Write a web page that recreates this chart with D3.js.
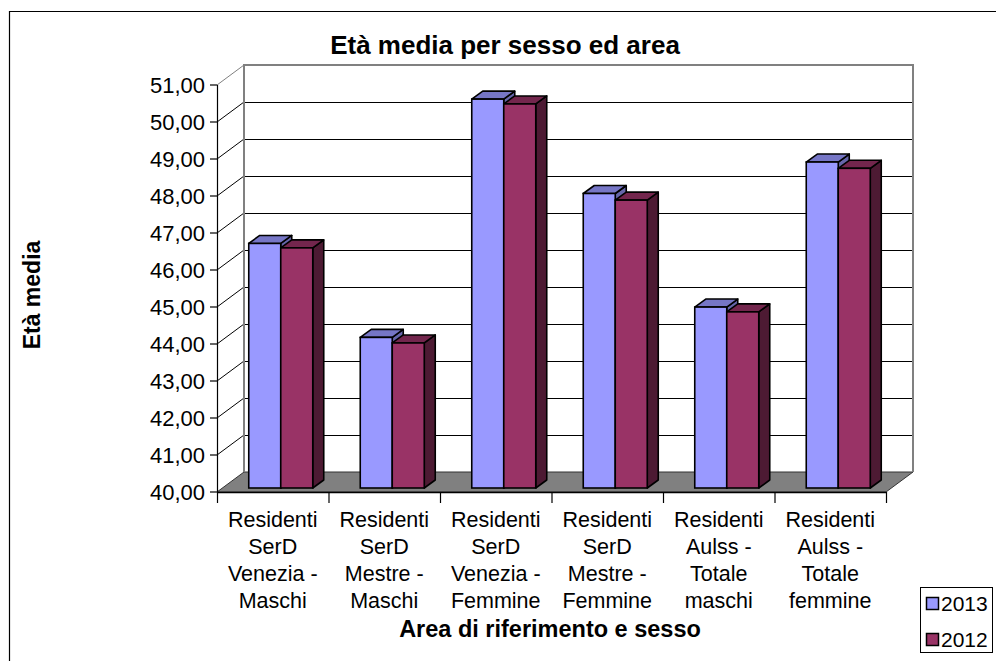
<!DOCTYPE html>
<html>
<head>
<meta charset="utf-8">
<script src="https://cdn.jsdelivr.net/npm/d3@7"></script>
<style>
  html, body { margin: 0; padding: 0; background: #fff; }
  svg { display: block; font-family: "Liberation Sans", Arial, sans-serif; }
</style>
</head>
<body>
<svg id="chart" width="996" height="661"></svg>
<script>
// Average age by sex and area, two survey years
const categories = [
  ["Residenti", "SerD", "Venezia -", "Maschi"],
  ["Residenti", "SerD", "Mestre -", "Maschi"],
  ["Residenti", "SerD", "Venezia -", "Femmine"],
  ["Residenti", "SerD", "Mestre -", "Femmine"],
  ["Residenti", "Aulss -", "Totale", "maschi"],
  ["Residenti", "Aulss -", "Totale", "femmine"]
];
const seriesNames = ["2013", "2012"];
const values2013 = [46.61, 44.07, 50.51, 47.96, 44.89, 48.81];
const values2012 = [46.49, 43.92, 50.38, 47.78, 44.76, 48.64];
const yTicks = [40, 41, 42, 43, 44, 45, 46, 47, 48, 49, 50, 51];

const seriesValues = [values2013, values2012];
const palette = {
  "2013": { front: "#9999FF", top: "#7676C6", side: "#6666AA" },
  "2012": { front: "#993366", top: "#73264D", side: "#4D1A33" }
};

const svg = d3.select("#chart");
const fmt = v => v.toFixed(2).replace(".", ",");

// Front plane of the 3D plot and the oblique depth vector to the back wall
const x0 = 217, x1 = 886;
const depth = { dx: 27, dy: -20 };
const y = d3.scaleLinear().domain([40, 51]).range([492, 85]);
const catIdx = d3.range(categories.length);
const x = d3.scaleBand().domain(catIdx).range([x0, x1]).padding(0);
const groupW = 64;
const xs = d3.scaleBand().domain(seriesNames).range([0, groupW]);
// Bars sit a little behind the front plane
const barShift = { dx: 8, dy: -4 };
const barDepth = { dx: 11, dy: -8 };

// Outer frame
svg.append("path")
  .attr("d", "M9.5,661 V11.5 H996")
  .attr("fill", "none").attr("stroke", "#000").attr("stroke-width", 1.2);

// Floor
const yBase = y(40);
svg.append("polygon")
  .attr("points", [
    [x0, yBase], [x1, yBase], [x1 + depth.dx, yBase + depth.dy], [x0 + depth.dx, yBase + depth.dy]
  ].map(p => p.join(",")).join(" "))
  .attr("fill", "#808080").attr("stroke", "#333").attr("stroke-width", 1);

// Back wall gridlines
const grid = svg.append("g");
yTicks.slice(1, -1).forEach(t => {
  const yy = Math.round(y(t) + depth.dy) + 0.5;
  grid.append("line")
    .attr("x1", x0 + depth.dx).attr("x2", x1 + depth.dx)
    .attr("y1", yy).attr("y2", yy)
    .attr("stroke", "#000").attr("stroke-width", 1);
});
// Side wall gridlines (diagonals)
yTicks.slice(1).forEach((t, i, arr) => {
  grid.append("line")
    .attr("x1", x0).attr("y1", y(t))
    .attr("x2", x0 + depth.dx).attr("y2", y(t) + depth.dy)
    .attr("stroke", i === arr.length - 1 ? "#808080" : "#000").attr("stroke-width", 1);
});
// Back wall border
svg.append("path")
  .attr("d", `M${x0 + depth.dx},${yBase + depth.dy} V${y(51) + depth.dy} H${x1 + depth.dx} V${yBase + depth.dy}`)
  .attr("fill", "none").attr("stroke", "#808080").attr("stroke-width", 2);

// Y axis
const yAxis = svg.append("g");
yAxis.append("line")
  .attr("x1", x0 + 0.5).attr("x2", x0 + 0.5)
  .attr("y1", y(51)).attr("y2", yBase)
  .attr("stroke", "#000").attr("stroke-width", 1.2);
yTicks.forEach(t => {
  yAxis.append("line")
    .attr("x1", x0 - 7).attr("x2", x0)
    .attr("y1", y(t)).attr("y2", y(t))
    .attr("stroke", "#000").attr("stroke-width", 1.2);
  yAxis.append("text")
    .attr("x", 205).attr("y", y(t)).attr("dy", "0.36em")
    .attr("text-anchor", "end")
    .attr("font-size", 22).attr("fill", "#000")
    .text(fmt(t));
});

// X axis line and ticks
const xAxis = svg.append("g");
xAxis.append("line")
  .attr("x1", x0).attr("x2", x1)
  .attr("y1", yBase + 0.5).attr("y2", yBase + 0.5)
  .attr("stroke", "#000").attr("stroke-width", 1.5);
catIdx.concat([categories.length]).forEach(i => {
  const xx = (i < categories.length ? x(i) : x1) + 0.5;
  xAxis.append("line")
    .attr("x1", xx).attr("x2", xx)
    .attr("y1", yBase).attr("y2", yBase + 11)
    .attr("stroke", "#000").attr("stroke-width", 1.2);
});
categories.forEach((lines, i) => {
  const t = xAxis.append("text")
    .attr("text-anchor", "middle")
    .attr("font-size", 21.5).attr("fill", "#000");
  lines.forEach((ln, j) => {
    t.append("tspan")
      .attr("x", x(i) + x.bandwidth() / 2)
      .attr("y", 527 + j * 27)
      .text(ln);
  });
});

// Bars: side, top, then front face of each column
const bars = svg.append("g");
catIdx.forEach(i => {
  seriesNames.forEach((s, k) => {
    const v = seriesValues[k][i];
    const c = palette[s];
    const left = x(i) + (x.bandwidth() - groupW) / 2 + xs(s) + barShift.dx;
    const right = left + xs.bandwidth();
    const bottom = y(40) + barShift.dy;
    const top = y(v) + barShift.dy;
    const pts = a => a.map(p => p.join(",")).join(" ");
    bars.append("polygon")
      .attr("points", pts([[right, bottom], [right, top], [right + barDepth.dx, top + barDepth.dy], [right + barDepth.dx, bottom + barDepth.dy]]))
      .attr("fill", c.side).attr("stroke", "#000").attr("stroke-width", 1.6).attr("stroke-linejoin", "round");
    bars.append("polygon")
      .attr("points", pts([[left, top], [right, top], [right + barDepth.dx, top + barDepth.dy], [left + barDepth.dx, top + barDepth.dy]]))
      .attr("fill", c.top).attr("stroke", "#000").attr("stroke-width", 1.6).attr("stroke-linejoin", "round");
    bars.append("rect")
      .attr("x", left).attr("y", top)
      .attr("width", xs.bandwidth()).attr("height", bottom - top)
      .attr("fill", c.front).attr("stroke", "#000").attr("stroke-width", 1.6);
  });
});

// Titles
svg.append("text")
  .attr("x", 505).attr("y", 54)
  .attr("text-anchor", "middle").attr("font-weight", "bold").attr("font-size", 26)
  .text("Età media per sesso ed area");
svg.append("text")
  .attr("x", 550).attr("y", 637)
  .attr("text-anchor", "middle").attr("font-weight", "bold").attr("font-size", 23.5)
  .text("Area di riferimento e sesso");
svg.append("text")
  .attr("transform", "translate(40,295) rotate(-90)")
  .attr("text-anchor", "middle").attr("font-weight", "bold").attr("font-size", 23)
  .text("Età media");

// Legend
const legend = svg.append("g");
legend.append("rect")
  .attr("x", 920.5).attr("y", 587.5).attr("width", 72).attr("height", 65)
  .attr("fill", "#fff").attr("stroke", "#000").attr("stroke-width", 1);
seriesNames.forEach((s, k) => {
  legend.append("rect")
    .attr("x", 926.5).attr("y", 597.5 + k * 36).attr("width", 12).attr("height", 12)
    .attr("fill", palette[s].front).attr("stroke", "#000").attr("stroke-width", 1.5);
  legend.append("text")
    .attr("x", 941).attr("y", 611 + k * 36)
    .attr("font-size", 21).attr("fill", "#000")
    .text(s);
});
</script>
</body>
</html>
